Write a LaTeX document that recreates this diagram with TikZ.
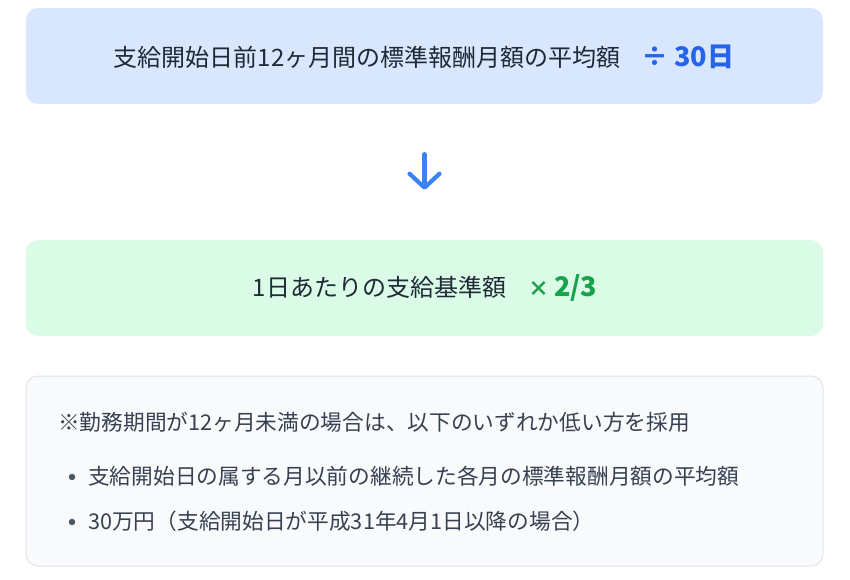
\documentclass[tikz,border=0pt]{standalone}
\usepackage{fontspec}
\setmainfont{Noto Sans CJK JP}
\usetikzlibrary{arrows.meta}
\definecolor{boxblue}{HTML}{D8E7FD}
\definecolor{boxgreen}{HTML}{DAFBE6}
\definecolor{boxgray}{HTML}{F9FAFB}
\definecolor{boxline}{HTML}{E2E4E8}
\definecolor{tblue}{HTML}{2563EB}
\definecolor{tgreen}{HTML}{16A34A}
\definecolor{arrowblue}{HTML}{3B82F6}
\definecolor{tdark}{HTML}{1F2937}
\definecolor{tnote}{HTML}{374151}
\definecolor{bulletc}{HTML}{4B5563}
\tikzset{
  card/.style={rounded corners=12pt, minimum width=797pt, inner sep=0pt},
  maintext/.style={text=tdark, font=\fontsize{24}{28}\selectfont, inner sep=0pt},
  notetext/.style={text=tnote, font=\fontsize{21.7}{26}\selectfont, inner sep=0pt, anchor=west},
  bulletdot/.style={circle, fill=bulletc, inner sep=0pt, minimum size=6.5pt},
  flowarrow/.style={draw=arrowblue, line width=4.2pt, line cap=round,
    -{Straight Barb[length=14pt, width=30pt, line cap=round, line join=round]}}
}
\begin{document}
\begin{tikzpicture}[x=1pt, y=-1pt]
\useasboundingbox (0,0) rectangle (850,580);
\node[card, fill=boxblue, minimum height=96pt] (b1) at (424.5,56) {};
\node[card, fill=boxgreen, minimum height=96pt] (b2) at (424.5,288) {};
\node[card, fill=boxgray, draw=boxline, line width=1pt, minimum height=190pt] (b3) at (424.5,471) {};

\node[maintext] (t1) at (424,57) {支給開始日前12ヶ月間の標準報酬月額の平均額\hspace{21pt}{\color{tblue}\bfseries\fontsize{27}{30}\selectfont ÷\hspace{6pt}30日}};
\node[maintext] (t2) at (425,288) {1日あたりの支給基準額\hspace{22pt}{\color{tgreen}\bfseries\fontsize{27}{30}\selectfont{\fontsize{21}{24}\selectfont ×}\hspace{5pt}2/3}};

\draw[flowarrow, shorten <=50pt, shorten >=50pt] (b1.south) -- (b2.north);

\node[notetext] (n1) at (58,422) {※勤務期間が12ヶ月未満の場合は、以下のいずれか低い方を採用};
\node[bulletdot] (d1) at (72,477) {};
\node[notetext] (n2) at (88,476) {支給開始日の属する月以前の継続した各月の標準報酬月額の平均額};
\node[bulletdot] (d2) at (72,522) {};
\node[notetext] (n3) at (88,521) {30万円（支給開始日が平成31年4月1日以降の場合）};
\end{tikzpicture}
\end{document}
